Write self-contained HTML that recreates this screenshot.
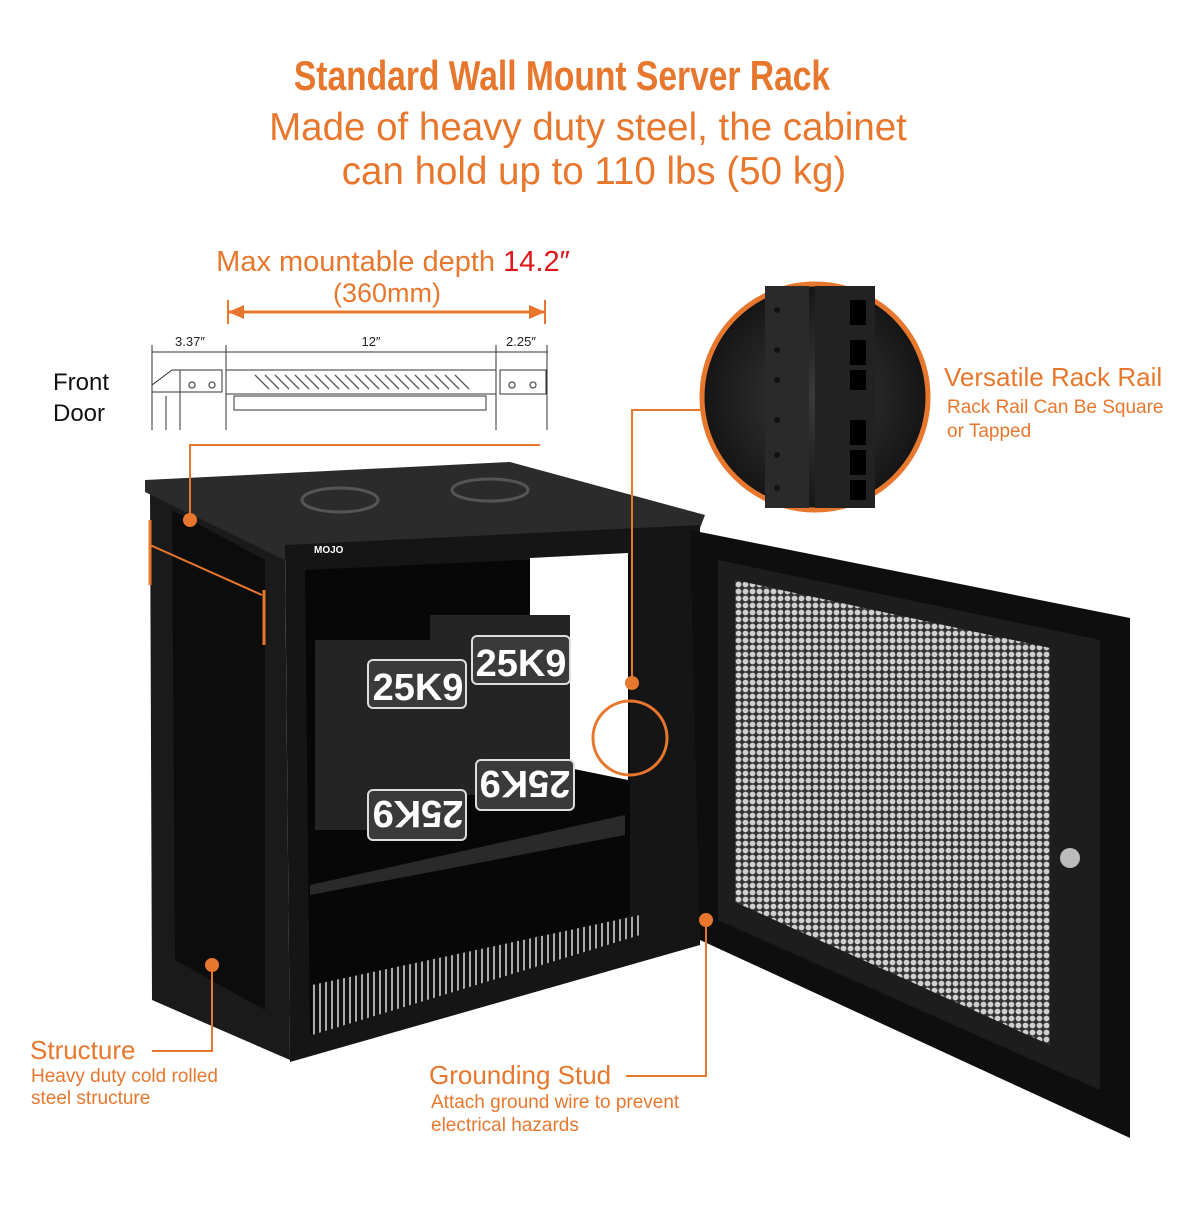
<!DOCTYPE html>
<html><head><meta charset="utf-8"><style>
html,body{margin:0;padding:0;background:#fff}
body{width:1200px;height:1200px;position:relative;overflow:hidden;font-family:"Liberation Sans",sans-serif}
</style></head><body>
<svg width="1200" height="1200" viewBox="0 0 1200 1200" xmlns="http://www.w3.org/2000/svg" font-family="Liberation Sans, sans-serif">
<defs>
<pattern id="hex" width="7" height="7" patternUnits="userSpaceOnUse">
<rect width="7" height="7" fill="#333"/><circle cx="3.5" cy="3.5" r="2.9" fill="#cfcfcf"/>
</pattern>
<pattern id="slots" width="6" height="6" patternUnits="userSpaceOnUse">
<rect width="6" height="6" fill="#111"/><rect x="1" y="0" width="2" height="6" fill="#aaa"/>
</pattern>
<radialGradient id="mg" cx="0.5" cy="0.5" r="0.5"><stop offset="0" stop-color="#3a3a3a"/><stop offset="1" stop-color="#151515"/></radialGradient>
</defs>
<!-- Title -->
<text x="562" y="90" text-anchor="middle" font-size="42" font-weight="bold" fill="#e8772e" transform="translate(562 0) scale(0.8 1) translate(-562 0)">Standard Wall Mount Server Rack</text>
<text x="588" y="140" text-anchor="middle" font-size="38.5" fill="#e8772e">Made of heavy duty steel, the cabinet</text>
<text x="594" y="184" text-anchor="middle" font-size="38.5" fill="#e8772e">can hold up to 110 lbs (50 kg)</text>
<!-- depth -->
<text x="393" y="271" font-size="29" fill="#e8772e" text-anchor="middle">Max mountable depth <tspan fill="#e0151b">14.2″</tspan></text>
<text x="387" y="302" font-size="27" fill="#e8772e" text-anchor="middle">(360mm)</text>
<line x1="228" y1="312" x2="545" y2="312" stroke="#e8772e" stroke-width="3"/>
<line x1="228" y1="300" x2="228" y2="324" stroke="#e8772e" stroke-width="2"/>
<line x1="545" y1="300" x2="545" y2="324" stroke="#e8772e" stroke-width="2"/>
<polygon points="228,312 244,305 244,319" fill="#e8772e"/><polygon points="545,312 529,305 529,319" fill="#e8772e"/>
<!-- mini drawing -->
<g stroke="#333" stroke-width="1" fill="none">
<line x1="152" y1="352" x2="548" y2="352"/>
<line x1="152" y1="345" x2="152" y2="430"/><line x1="226" y1="345" x2="226" y2="430"/>
<line x1="496" y1="345" x2="496" y2="430"/><line x1="547" y1="345" x2="547" y2="430"/>
<path d="M152 392 L152 385 L172 370 L222 370 L222 392 Z"/>
<rect x="226" y="370" width="270" height="24"/>
<rect x="500" y="370" width="46" height="24"/>
<rect x="234" y="396" width="252" height="14"/>
<line x1="180" y1="370" x2="180" y2="430"/><line x1="166" y1="396" x2="166" y2="430"/>
</g>
<g fill="none" stroke="#555" stroke-width="1.3">
<path d="M255 375 l14 14 M265 375 l14 14 M275 375 l14 14 M285 375 l14 14 M295 375 l14 14 M305 375 l14 14 M315 375 l14 14 M325 375 l14 14 M335 375 l14 14 M345 375 l14 14 M355 375 l14 14 M365 375 l14 14 M375 375 l14 14 M385 375 l14 14 M395 375 l14 14 M405 375 l14 14 M415 375 l14 14 M425 375 l14 14 M435 375 l14 14 M445 375 l14 14 M455 375 l14 14"/>
<circle cx="192" cy="385" r="3"/><circle cx="212" cy="385" r="3"/><circle cx="512" cy="385" r="3"/><circle cx="533" cy="385" r="3"/>
</g>
<text x="190" y="346" font-size="13" text-anchor="middle" fill="#222">3.37″</text>
<text x="371" y="346" font-size="13" text-anchor="middle" fill="#222">12″</text>
<text x="521" y="346" font-size="13" text-anchor="middle" fill="#222">2.25″</text>
<text x="53" y="390" font-size="24" fill="#111">Front</text>
<text x="53" y="421" font-size="24" fill="#111">Door</text>
<!-- cabinet -->
<polygon points="150,490 285,555 290,1060 152,1000" fill="#1a1a1a"/>
<polygon points="172,510 265,560 265,1010 175,960" fill="#0c0c0c"/>
<polygon points="145,480 510,462 705,515 700,528 285,560 145,492" fill="#2b2b2b"/>
<polygon points="285,545 700,525 700,945 290,1062" fill="#151515"/>
<polygon points="305,570 630,555 630,915 310,1035" fill="#070707"/>
<polygon points="530,558 628,553 628,780 530,760" fill="#fff"/>
<polygon points="312,985 640,915 640,935 312,1035" fill="url(#slots)"/>
<polygon points="310,885 625,815 625,835 310,895" fill="#2a2a2a"/>
<!-- weights -->
<g fill="#242424">
<rect x="315" y="640" width="150" height="190"/><rect x="430" y="615" width="140" height="180"/>
</g>
<g fill="#3a3a3a" stroke="#ddd" stroke-width="2">
<rect x="368" y="660" width="98" height="48" rx="5"/><rect x="472" y="636" width="98" height="48" rx="5"/>
<rect x="368" y="790" width="98" height="50" rx="5"/><rect x="476" y="760" width="98" height="50" rx="5"/>
</g>
<g font-size="38" fill="#fff" font-weight="bold" text-anchor="middle">
<text x="418" y="700">25K9</text><text x="521" y="676">25K9</text>
<text x="418" y="829" transform="rotate(180 418 815)">25K9</text>
<text x="525" y="799" transform="rotate(180 525 785)">25K9</text>
</g>
<text x="314" y="553" font-size="10" fill="#fff" font-weight="bold">MOJO</text>
<ellipse cx="340" cy="500" rx="38" ry="12" fill="none" stroke="#555" stroke-width="3"/>
<ellipse cx="490" cy="490" rx="38" ry="11" fill="none" stroke="#555" stroke-width="3"/>
<!-- door -->
<polygon points="690,530 1130,618 1130,1138 700,940" fill="#0e0e0e"/>
<polygon points="718,560 1100,640 1100,1090 718,920" fill="#1d1d1d"/>
<polygon points="735,580 1050,648 1050,1045 735,902" fill="url(#hex)"/>
<circle cx="1070" cy="858" r="10" fill="#bbb"/>
<!-- magnifier -->
<circle cx="815" cy="397" r="113" fill="url(#mg)" stroke="#e8772e" stroke-width="5"/>
<rect x="765" y="286" width="44" height="222" fill="#2a2a2a"/>
<rect x="815" y="286" width="60" height="222" fill="#222"/>
<g fill="#000"><rect x="850" y="300" width="16" height="25"/><rect x="850" y="340" width="16" height="25"/><rect x="850" y="370" width="16" height="20"/><rect x="850" y="420" width="16" height="25"/><rect x="850" y="450" width="16" height="25"/><rect x="850" y="480" width="16" height="20"/></g>
<g fill="#111"><circle cx="777" cy="310" r="3"/><circle cx="777" cy="350" r="3"/><circle cx="777" cy="380" r="3"/><circle cx="777" cy="420" r="3"/><circle cx="777" cy="455" r="3"/><circle cx="777" cy="488" r="3"/></g>
<!-- callouts -->
<g stroke="#e8772e" stroke-width="2" fill="none">
<polyline points="190,520 190,445 540,445"/>
<polyline points="632,683 632,410 705,410"/>
<circle cx="630" cy="738" r="37" stroke-width="3"/>
<polyline points="212,965 212,1051 152,1051"/>
<polyline points="706,920 706,1076 626,1076"/>
<line x1="150" y1="545" x2="262" y2="595"/>
<line x1="150" y1="520" x2="150" y2="585" stroke-width="3"/><line x1="264" y1="590" x2="264" y2="645" stroke-width="3"/>
</g>
<g fill="#e8772e"><circle cx="190" cy="520" r="7"/><circle cx="632" cy="683" r="7"/><circle cx="212" cy="965" r="7"/><circle cx="706" cy="920" r="7"/></g>
<text x="944" y="386" font-size="26" fill="#e8772e">Versatile Rack Rail</text>
<text x="947" y="413" font-size="19" fill="#e8772e">Rack Rail Can Be Square</text>
<text x="947" y="437" font-size="19" fill="#e8772e">or Tapped</text>
<text x="30" y="1059" font-size="26" fill="#e8772e">Structure</text>
<text x="31" y="1082" font-size="19" fill="#e8772e">Heavy duty cold rolled</text>
<text x="31" y="1104" font-size="19" fill="#e8772e">steel structure</text>
<text x="429" y="1084" font-size="26" fill="#e8772e">Grounding Stud</text>
<text x="431" y="1108" font-size="19" fill="#e8772e">Attach ground wire to prevent</text>
<text x="431" y="1131" font-size="19" fill="#e8772e">electrical hazards</text>
</svg>
</body></html>
